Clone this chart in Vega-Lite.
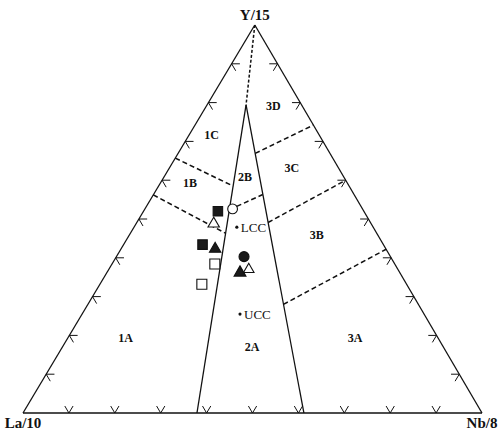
{
  "$schema": "https://vega.github.io/schema/vega-lite/v6.json",
  "description": "La/10 - Y/15 - Nb/8 ternary discrimination diagram with field boundaries, sample points and crustal references.",
  "width": 499,
  "height": 434,
  "autosize": {"type": "none"},
  "padding": 0,
  "background": "white",
  "config": {
    "view": {"stroke": null},
    "axis": {"disable": true},
    "text": {"font": "Liberation Serif", "color": "#111"}
  },
  "datasets": {
    "segments": [
      {"style": "solid", "Y1": 0, "Nb1": 0, "Y2": 0, "Nb2": 100},
      {"style": "solid", "Y1": 0, "Nb1": 0, "Y2": 100, "Nb2": 0},
      {"style": "solid", "Y1": 0, "Nb1": 100, "Y2": 100, "Nb2": 0},
      {"style": "solid", "Y1": 79.4, "Nb1": 8.5, "Y2": 0, "Nb2": 37.9},
      {"style": "solid", "Y1": 79.4, "Nb1": 8.5, "Y2": 0, "Nb2": 61.2},
      {"style": "fine", "Y1": 100, "Nb1": 0, "Y2": 79.4, "Nb2": 8.5},
      {"style": "dashed", "Y1": 65.7, "Nb1": 0, "Y2": 58.5, "Nb2": 16.2},
      {"style": "dashed", "Y1": 56.2, "Nb1": 0, "Y2": 46.3, "Nb2": 20.8},
      {"style": "dashed", "Y1": 52.4, "Nb1": 18.5, "Y2": 56.3, "Nb2": 23.8},
      {"style": "dashed", "Y1": 66.9, "Nb1": 16.8, "Y2": 74.2, "Nb2": 25.8},
      {"style": "dashed", "Y1": 49.1, "Nb1": 28.6, "Y2": 60.0, "Nb2": 40.0},
      {"style": "dashed", "Y1": 28.0, "Nb1": 42.6, "Y2": 42.2, "Nb2": 57.8}
    ],
    "ticks": [
      {"edge": "base", "Y": 0, "Nb": 10, "Ya": 1.8, "Nba": 10, "Yb": 1.8, "Nbb": 8.2},
      {"edge": "base", "Y": 0, "Nb": 20, "Ya": 1.8, "Nba": 20, "Yb": 1.8, "Nbb": 18.2},
      {"edge": "base", "Y": 0, "Nb": 30, "Ya": 1.8, "Nba": 30, "Yb": 1.8, "Nbb": 28.2},
      {"edge": "base", "Y": 0, "Nb": 40, "Ya": 1.8, "Nba": 40, "Yb": 1.8, "Nbb": 38.2},
      {"edge": "base", "Y": 0, "Nb": 50, "Ya": 1.8, "Nba": 50, "Yb": 1.8, "Nbb": 48.2},
      {"edge": "base", "Y": 0, "Nb": 60, "Ya": 1.8, "Nba": 60, "Yb": 1.8, "Nbb": 58.2},
      {"edge": "base", "Y": 0, "Nb": 70, "Ya": 1.8, "Nba": 70, "Yb": 1.8, "Nbb": 68.2},
      {"edge": "base", "Y": 0, "Nb": 80, "Ya": 1.8, "Nba": 80, "Yb": 1.8, "Nbb": 78.2},
      {"edge": "base", "Y": 0, "Nb": 90, "Ya": 1.8, "Nba": 90, "Yb": 1.8, "Nbb": 88.2},
      {"edge": "left", "Y": 10, "Nb": 0, "Ya": 10, "Nba": 1.8, "Yb": 8.2, "Nbb": 1.8},
      {"edge": "left", "Y": 20, "Nb": 0, "Ya": 20, "Nba": 1.8, "Yb": 18.2, "Nbb": 1.8},
      {"edge": "left", "Y": 30, "Nb": 0, "Ya": 30, "Nba": 1.8, "Yb": 28.2, "Nbb": 1.8},
      {"edge": "left", "Y": 40, "Nb": 0, "Ya": 40, "Nba": 1.8, "Yb": 38.2, "Nbb": 1.8},
      {"edge": "left", "Y": 50, "Nb": 0, "Ya": 50, "Nba": 1.8, "Yb": 48.2, "Nbb": 1.8},
      {"edge": "left", "Y": 60, "Nb": 0, "Ya": 60, "Nba": 1.8, "Yb": 58.2, "Nbb": 1.8},
      {"edge": "left", "Y": 70, "Nb": 0, "Ya": 70, "Nba": 1.8, "Yb": 68.2, "Nbb": 1.8},
      {"edge": "left", "Y": 80, "Nb": 0, "Ya": 80, "Nba": 1.8, "Yb": 78.2, "Nbb": 1.8},
      {"edge": "left", "Y": 90, "Nb": 0, "Ya": 90, "Nba": 1.8, "Yb": 88.2, "Nbb": 1.8},
      {"edge": "right", "Y": 10, "Nb": 90, "Ya": 10, "Nba": 88.2, "Yb": 8.2, "Nbb": 90},
      {"edge": "right", "Y": 20, "Nb": 80, "Ya": 20, "Nba": 78.2, "Yb": 18.2, "Nbb": 80},
      {"edge": "right", "Y": 30, "Nb": 70, "Ya": 30, "Nba": 68.2, "Yb": 28.2, "Nbb": 70},
      {"edge": "right", "Y": 40, "Nb": 60, "Ya": 40, "Nba": 58.2, "Yb": 38.2, "Nbb": 60},
      {"edge": "right", "Y": 50, "Nb": 50, "Ya": 50, "Nba": 48.2, "Yb": 48.2, "Nbb": 50},
      {"edge": "right", "Y": 60, "Nb": 40, "Ya": 60, "Nba": 38.2, "Yb": 58.2, "Nbb": 40},
      {"edge": "right", "Y": 70, "Nb": 30, "Ya": 70, "Nba": 28.2, "Yb": 68.2, "Nbb": 30},
      {"edge": "right", "Y": 80, "Nb": 20, "Ya": 80, "Nba": 18.2, "Yb": 78.2, "Nbb": 20},
      {"edge": "right", "Y": 90, "Nb": 10, "Ya": 90, "Nba": 8.2, "Yb": 88.2, "Nbb": 10}
    ],
    "samples": [
      {"shape": "triangle-up", "fill": "white", "size": 130, "Y": 49.2, "Nb": 16.7},
      {"shape": "square", "fill": "#1a1a1a", "size": 90, "Y": 52.0, "Nb": 16.2},
      {"shape": "circle", "fill": "white", "size": 95, "Y": 52.6, "Nb": 19.1},
      {"shape": "square", "fill": "#1a1a1a", "size": 90, "Y": 43.4, "Nb": 17.2},
      {"shape": "triangle-up", "fill": "#1a1a1a", "size": 130, "Y": 42.7, "Nb": 20.3},
      {"shape": "square", "fill": "white", "size": 100, "Y": 38.4, "Nb": 22.4},
      {"shape": "square", "fill": "white", "size": 100, "Y": 33.2, "Nb": 22.2},
      {"shape": "circle", "fill": "#1a1a1a", "size": 100, "Y": 40.3, "Nb": 27.8},
      {"shape": "triangle-up", "fill": "#1a1a1a", "size": 140, "Y": 36.6, "Nb": 28.8},
      {"shape": "triangle-up", "fill": "white", "size": 110, "Y": 37.4, "Nb": 30.3}
    ],
    "crust": [
      {"name": "LCC", "Y": 47.9, "Nb": 22.4},
      {"name": "UCC", "Y": 25.5, "Nb": 34.4}
    ],
    "fields": [
      {"label": "1A", "Y": 19.3, "Nb": 12.6},
      {"label": "1B", "Y": 59.2, "Nb": 6.5},
      {"label": "1C", "Y": 71.7, "Nb": 4.9},
      {"label": "2A", "Y": 17.0, "Nb": 41.3},
      {"label": "2B", "Y": 60.9, "Nb": 17.6},
      {"label": "3A", "Y": 19.3, "Nb": 62.6},
      {"label": "3B", "Y": 45.9, "Nb": 40.8},
      {"label": "3C", "Y": 63.1, "Nb": 26.7},
      {"label": "3D", "Y": 79.1, "Nb": 14.6}
    ],
    "apices": [
      {"label": "Y/15", "pos": "top", "Y": 100, "Nb": 0},
      {"label": "La/10", "pos": "bottom", "Y": 0, "Nb": 0},
      {"label": "Nb/8", "pos": "bottom", "Y": 0, "Nb": 100}
    ]
  },
  "layer": [
    {
      "data": {"name": "segments"},
      "transform": [
        {"filter": "datum.style === 'solid'"},
        {"calculate": "datum.Nb1 + 0.505 * datum.Y1", "as": "x"},
        {"calculate": "datum.Y1", "as": "y"},
        {"calculate": "datum.Nb2 + 0.505 * datum.Y2", "as": "x2"},
        {"calculate": "datum.Y2", "as": "y2"}
      ],
      "mark": {"type": "rule", "color": "#111", "strokeWidth": 1.3},
      "encoding": {
        "x": {"field": "x", "type": "quantitative", "scale": {"domain": [-5.011, 103.704], "nice": false, "zero": false}},
        "y": {"field": "y", "type": "quantitative", "scale": {"domain": [-5.412, 106.443], "nice": false, "zero": false}},
        "x2": {"field": "x2"},
        "y2": {"field": "y2"}
      }
    },
    {
      "data": {"name": "segments"},
      "transform": [
        {"filter": "datum.style === 'dashed'"},
        {"calculate": "datum.Nb1 + 0.505 * datum.Y1", "as": "x"},
        {"calculate": "datum.Y1", "as": "y"},
        {"calculate": "datum.Nb2 + 0.505 * datum.Y2", "as": "x2"},
        {"calculate": "datum.Y2", "as": "y2"}
      ],
      "mark": {"type": "rule", "color": "#111", "strokeWidth": 1.5, "strokeDash": [5, 3]},
      "encoding": {
        "x": {"field": "x", "type": "quantitative"},
        "y": {"field": "y", "type": "quantitative"},
        "x2": {"field": "x2"},
        "y2": {"field": "y2"}
      }
    },
    {
      "data": {"name": "segments"},
      "transform": [
        {"filter": "datum.style === 'fine'"},
        {"calculate": "datum.Nb1 + 0.505 * datum.Y1", "as": "x"},
        {"calculate": "datum.Y1", "as": "y"},
        {"calculate": "datum.Nb2 + 0.505 * datum.Y2", "as": "x2"},
        {"calculate": "datum.Y2", "as": "y2"}
      ],
      "mark": {"type": "rule", "color": "#111", "strokeWidth": 1.5, "strokeDash": [3, 2]},
      "encoding": {
        "x": {"field": "x", "type": "quantitative"},
        "y": {"field": "y", "type": "quantitative"},
        "x2": {"field": "x2"},
        "y2": {"field": "y2"}
      }
    },
    {
      "data": {"name": "ticks"},
      "transform": [
        {"calculate": "datum.Nb + 0.505 * datum.Y", "as": "x"},
        {"calculate": "datum.Y", "as": "y"},
        {"calculate": "datum.Nba + 0.505 * datum.Ya", "as": "x2"},
        {"calculate": "datum.Ya", "as": "y2"}
      ],
      "mark": {"type": "rule", "color": "#111", "strokeWidth": 1},
      "encoding": {
        "x": {"field": "x", "type": "quantitative"},
        "y": {"field": "y", "type": "quantitative"},
        "x2": {"field": "x2"},
        "y2": {"field": "y2"}
      }
    },
    {
      "data": {"name": "ticks"},
      "transform": [
        {"calculate": "datum.Nb + 0.505 * datum.Y", "as": "x"},
        {"calculate": "datum.Y", "as": "y"},
        {"calculate": "datum.Nbb + 0.505 * datum.Yb", "as": "x2"},
        {"calculate": "datum.Yb", "as": "y2"}
      ],
      "mark": {"type": "rule", "color": "#111", "strokeWidth": 1},
      "encoding": {
        "x": {"field": "x", "type": "quantitative"},
        "y": {"field": "y", "type": "quantitative"},
        "x2": {"field": "x2"},
        "y2": {"field": "y2"}
      }
    },
    {
      "data": {"name": "samples"},
      "transform": [
        {"calculate": "datum.Nb + 0.505 * datum.Y", "as": "x"},
        {"calculate": "datum.Y", "as": "y"}
      ],
      "mark": {"type": "point", "filled": true, "stroke": "#111", "strokeWidth": 1.1, "opacity": 1},
      "encoding": {
        "x": {"field": "x", "type": "quantitative"},
        "y": {"field": "y", "type": "quantitative"},
        "shape": {"field": "shape", "type": "nominal", "scale": null},
        "fill": {"field": "fill", "type": "nominal", "scale": null},
        "size": {"field": "size", "type": "quantitative", "scale": null}
      }
    },
    {
      "data": {"name": "crust"},
      "transform": [
        {"calculate": "datum.Nb + 0.505 * datum.Y", "as": "x"},
        {"calculate": "datum.Y", "as": "y"}
      ],
      "mark": {"type": "circle", "color": "#111", "size": 10, "opacity": 1},
      "encoding": {
        "x": {"field": "x", "type": "quantitative"},
        "y": {"field": "y", "type": "quantitative"}
      }
    },
    {
      "data": {"name": "crust"},
      "transform": [
        {"calculate": "datum.Nb + 0.505 * datum.Y", "as": "x"},
        {"calculate": "datum.Y", "as": "y"}
      ],
      "mark": {"type": "text", "align": "left", "baseline": "middle", "dx": 4, "dy": 1, "fontSize": 13, "fill": "#111"},
      "encoding": {
        "x": {"field": "x", "type": "quantitative"},
        "y": {"field": "y", "type": "quantitative"},
        "text": {"field": "name"}
      }
    },
    {
      "data": {"name": "fields"},
      "transform": [
        {"calculate": "datum.Nb + 0.505 * datum.Y", "as": "x"},
        {"calculate": "datum.Y", "as": "y"}
      ],
      "mark": {"type": "text", "align": "center", "baseline": "middle", "fontSize": 12, "fontWeight": "bold", "fill": "#111"},
      "encoding": {
        "x": {"field": "x", "type": "quantitative"},
        "y": {"field": "y", "type": "quantitative"},
        "text": {"field": "label"}
      }
    },
    {
      "data": {"name": "apices"},
      "transform": [
        {"filter": "datum.pos === 'top'"},
        {"calculate": "datum.Nb + 0.505 * datum.Y", "as": "x"},
        {"calculate": "datum.Y", "as": "y"}
      ],
      "mark": {"type": "text", "align": "center", "baseline": "alphabetic", "dy": -5, "fontSize": 15, "fontWeight": "bold", "fill": "#111"},
      "encoding": {
        "x": {"field": "x", "type": "quantitative"},
        "y": {"field": "y", "type": "quantitative"},
        "text": {"field": "label"}
      }
    },
    {
      "data": {"name": "apices"},
      "transform": [
        {"filter": "datum.pos === 'bottom'"},
        {"calculate": "datum.Nb + 0.505 * datum.Y", "as": "x"},
        {"calculate": "datum.Y", "as": "y"}
      ],
      "mark": {"type": "text", "align": "center", "baseline": "top", "dy": 3, "fontSize": 15, "fontWeight": "bold", "fill": "#111"},
      "encoding": {
        "x": {"field": "x", "type": "quantitative"},
        "y": {"field": "y", "type": "quantitative"},
        "text": {"field": "label"}
      }
    }
  ]
}
